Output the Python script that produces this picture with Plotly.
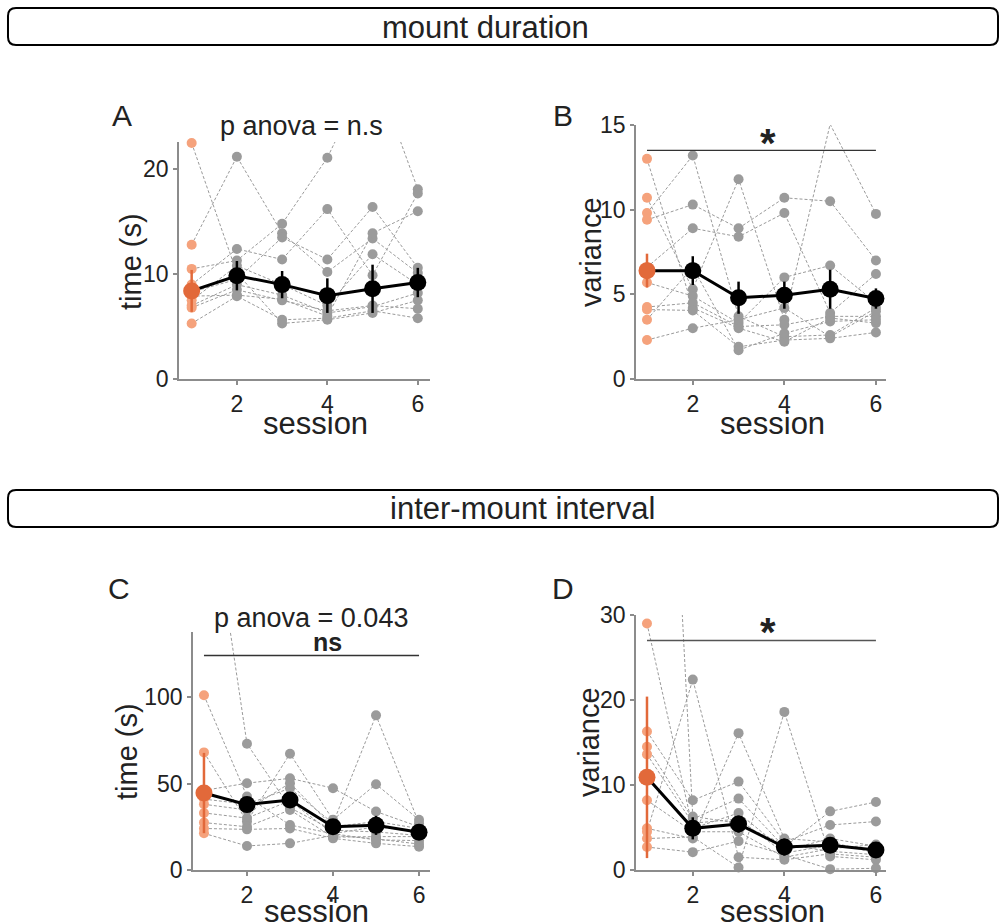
import plotly.graph_objects as go

W, H = 1002, 923
FONT = "Liberation Sans, Arial, Helvetica, sans-serif"

sessions = [1, 2, 3, 4, 5, 6]

# ---------------- data ----------------
# Panel A: mount duration, time (s) — one row per subject, sessions 1..6
A_subjects = [
    [22.5, 10.1, 5.3, 5.65, 6.3, 7.5],
    [12.8, 21.2, 13.9, 10.2, 13.4, 10.1],
    [10.5, 11.3, 14.8, 21.1, 30.0, 18.1],
    [9.0, 12.4, 11.4, 16.2, 9.9, 17.7],
    [8.3, 9.5, 13.5, 11.4, 16.4, 10.6],
    [7.9, 8.0, 7.6, 6.0, 13.9, 16.0],
    [7.5, 10.8, 9.0, 7.0, 11.9, 9.0],
    [7.0, 9.0, 8.0, 6.3, 6.9, 8.2],
    [6.8, 8.5, 7.5, 6.5, 7.0, 6.7],
    [5.3, 7.9, 5.65, 5.8, 6.5, 5.8],
]
A_mean = [8.4, 9.85, 9.0, 7.95, 8.6, 9.2]
A_err = [2.0, 1.4, 1.3, 1.65, 2.3, 1.4]

# Panel B: mount duration, variance
B_subjects = [
    [13.0, 4.2, 3.0, 2.2, 3.6, 3.3],
    [10.7, 5.3, 11.8, 3.5, 15.05, 9.75],
    [9.8, 13.2, 3.7, 2.5, 2.6, 4.2],
    [9.4, 10.3, 8.9, 10.7, 10.5, 7.0],
    [6.6, 8.9, 8.4, 9.8, 3.9, 6.2],
    [5.7, 4.9, 3.3, 6.0, 6.7, 4.5],
    [4.25, 4.5, 3.1, 3.2, 3.7, 3.7],
    [4.1, 4.05, 1.9, 2.3, 2.4, 2.75],
    [3.5, 6.6, 1.7, 2.7, 3.4, 3.5],
    [2.3, 3.0, 3.5, 4.2, 2.5, 4.0],
]
B_mean = [6.4, 6.4, 4.8, 4.95, 5.3, 4.75]
B_err = [1.0, 0.85, 0.95, 0.8, 1.15, 0.6]

# Panel C: inter-mount interval, time (s)
C_subjects = [
    [240.0, 73.0, 36.0, 23.0, 22.0, 20.0],
    [101.0, 42.5, 26.0, 21.0, 17.4, 17.0],
    [68.0, 28.0, 67.2, 29.0, 49.6, 29.0],
    [46.0, 50.2, 53.0, 47.3, 33.8, 25.0],
    [41.0, 38.0, 47.3, 27.0, 89.4, 27.0],
    [38.0, 34.7, 50.2, 25.0, 28.0, 24.0],
    [33.0, 30.0, 40.0, 21.0, 25.0, 22.0],
    [27.4, 25.0, 34.7, 19.0, 19.3, 19.3],
    [24.0, 23.5, 24.0, 18.3, 15.4, 13.5],
    [21.2, 13.9, 15.4, 20.0, 18.0, 15.0],
]
C_mean = [44.5, 37.8, 40.5, 25.0, 25.8, 21.8]
C_err = [23.2, 4.0, 4.0, 3.0, 5.5, 2.5]

# Panel D: inter-mount interval, variance
D_subjects = [
    [110.0, 6.3, 5.5, 3.0, 2.2, 1.8],
    [29.0, 4.9, 6.7, 2.3, 3.7, 2.8],
    [16.3, 8.2, 10.4, 3.3, 5.3, 5.7],
    [14.5, 6.0, 8.4, 2.7, 6.9, 8.0],
    [13.6, 5.5, 6.0, 2.0, 2.9, 2.35],
    [8.2, 4.5, 4.5, 1.5, 2.5, 3.0],
    [4.9, 3.7, 16.1, 3.7, 3.3, 2.0],
    [4.5, 22.4, 1.5, 1.2, 1.9, 1.5],
    [3.7, 3.9, 0.3, 18.6, 1.6, 1.2],
    [2.7, 2.1, 3.4, 1.8, 0.1, 0.2],
]
D_mean = [10.9, 4.9, 5.4, 2.7, 2.9, 2.35]
D_err = [9.5, 1.3, 1.0, 1.0, 0.6, 0.5]

x_ticks = [2, 4, 6]
A_yticks = [0, 10, 20]
B_yticks = [0, 5, 10, 15]
C_yticks = [0, 50, 100]
D_yticks = [0, 10, 20, 30]

section_titles = ["mount duration", "inter-mount interval"]
panel_letters = ["A", "B", "C", "D"]
y_titles = ["time (s)", "variance", "time (s)", "variance"]
x_title = "session"

# ---------------- styling / layout ----------------
ORANGE_PT = "#F5A27C"
ORANGE_MEAN = "#E2693A"
GREY_PT = "#9b9b9b"
GREY_LINE = "#9a9a9a"
AXIS_COL = "#8c8c8c"
TXT = "#222222"

panels = [
    dict(subj=A_subjects, mean=A_mean, err=A_err, xr=[0.72, 6.27], yr=[0, 22.6],
         yt=A_yticks, px=(179, 430), py=(142, 379)),
    dict(subj=B_subjects, mean=B_mean, err=B_err, xr=[0.76, 6.22], yr=[0, 15],
         yt=B_yticks, px=(636, 886), py=(125, 379)),
    dict(subj=C_subjects, mean=C_mean, err=C_err, xr=[0.745, 6.255], yr=[0, 137.6],
         yt=C_yticks, px=(193, 430), py=(632, 870)),
    dict(subj=D_subjects, mean=D_mean, err=D_err, xr=[0.76, 6.22], yr=[0, 30],
         yt=D_yticks, px=(636, 886), py=(615, 870)),
]


def fx(x):
    return x / W


def fy(y):
    return 1 - y / H


fig = go.Figure()
layout = dict(
    template="none",
    width=W, height=H, autosize=False,
    margin=dict(l=0, r=0, t=0, b=0, pad=0, autoexpand=False),
    paper_bgcolor="white", plot_bgcolor="white",
    showlegend=False,
    font=dict(family=FONT, color=TXT),
)

axis_common = dict(
    showline=True, linecolor=AXIS_COL, linewidth=1.5,
    ticks="outside", ticklen=4, tickwidth=1.5, tickcolor=AXIS_COL,
    showgrid=False, zeroline=False, fixedrange=True, automargin=False,
    tickfont=dict(family=FONT, size=23, color=TXT),
)

for i, p in enumerate(panels):
    n = "" if i == 0 else str(i + 1)
    xa, ya = "x" + n, "y" + n
    ymax = p["yr"][1]

    # individual subject trajectories (dashed)
    xs, ys = [], []
    for s in p["subj"]:
        xs += sessions + [None]
        ys += s + [None]
    fig.add_trace(go.Scatter(x=xs, y=ys, mode="lines", xaxis=xa, yaxis=ya,
                             line=dict(color=GREY_LINE, width=1, dash="3px,2px"),
                             hoverinfo="skip", connectgaps=False))

    # session 1 individual points
    s1 = [s[0] for s in p["subj"] if s[0] <= ymax]
    fig.add_trace(go.Scatter(x=[1] * len(s1), y=s1, mode="markers", xaxis=xa, yaxis=ya,
                             marker=dict(color=ORANGE_PT, size=10), cliponaxis=False))
    # sessions 2..6 individual points
    gx, gy = [], []
    for s in p["subj"]:
        for j in range(1, 6):
            if s[j] <= ymax:
                gx.append(sessions[j])
                gy.append(s[j])
    fig.add_trace(go.Scatter(x=gx, y=gy, mode="markers", xaxis=xa, yaxis=ya,
                             marker=dict(color=GREY_PT, size=10), cliponaxis=False))

    # mean line
    fig.add_trace(go.Scatter(x=sessions, y=p["mean"], mode="lines", xaxis=xa, yaxis=ya,
                             line=dict(color="black", width=3)))
    # session 1 mean (orange)
    fig.add_trace(go.Scatter(x=[1], y=[p["mean"][0]], mode="markers", xaxis=xa, yaxis=ya,
                             marker=dict(color=ORANGE_MEAN, size=17), cliponaxis=False,
                             error_y=dict(type="data", array=[p["err"][0]], width=0,
                                          thickness=2.5, color=ORANGE_MEAN)))
    # sessions 2..6 mean (black)
    fig.add_trace(go.Scatter(x=sessions[1:], y=p["mean"][1:], mode="markers", xaxis=xa, yaxis=ya,
                             marker=dict(color="black", size=17), cliponaxis=False,
                             error_y=dict(type="data", array=p["err"][1:], width=0,
                                          thickness=2.5, color="black")))

    layout["xaxis" + n] = dict(domain=[fx(p["px"][0]), fx(p["px"][1])], range=p["xr"],
                               tickvals=x_ticks, anchor=ya, **axis_common)
    layout["yaxis" + n] = dict(domain=[fy(p["py"][1]), fy(p["py"][0])], range=p["yr"],
                               tickvals=p["yt"], anchor=xa, **axis_common)

fig.update_layout(**layout)


# ---------------- section header boxes ----------------
def rounded_path(x0, y0, x1, y1, r):
    X = lambda v: f"{fx(v):.5f}"
    Y = lambda v: f"{fy(v):.5f}"
    return (f"M {X(x0 + r)},{Y(y0)} L {X(x1 - r)},{Y(y0)} Q {X(x1)},{Y(y0)} {X(x1)},{Y(y0 + r)} "
            f"L {X(x1)},{Y(y1 - r)} Q {X(x1)},{Y(y1)} {X(x1 - r)},{Y(y1)} "
            f"L {X(x0 + r)},{Y(y1)} Q {X(x0)},{Y(y1)} {X(x0)},{Y(y1 - r)} "
            f"L {X(x0)},{Y(y0 + r)} Q {X(x0)},{Y(y0)} {X(x0 + r)},{Y(y0)} Z")


shapes = []
boxes = [(8, 8, 998, 45), (8, 490, 998, 527)]
for (x0, y0, x1, y1) in boxes:
    shapes.append(dict(type="path", xref="paper", yref="paper",
                       path=rounded_path(x0, y0, x1, y1, 8),
                       line=dict(color="black", width=2)))

# significance bars
shapes.append(dict(type="line", xref="x2", yref="y2", x0=1, x1=6, y0=13.5, y1=13.5,
                   line=dict(color="#333333", width=1.3)))
shapes.append(dict(type="line", xref="x3", yref="y3", x0=1, x1=6, y0=124, y1=124,
                   line=dict(color="#333333", width=1.3)))
shapes.append(dict(type="line", xref="x4", yref="y4", x0=1, x1=6, y0=27, y1=27,
                   line=dict(color="#555555", width=1.3)))

annotations = []


def ann(text, x, y, size, angle=0, bold=False, xanchor="center", yanchor="middle"):
    t = f"<b>{text}</b>" if bold else text
    annotations.append(dict(text=t, x=fx(x), y=fy(y), xref="paper", yref="paper",
                            showarrow=False, textangle=angle, xanchor=xanchor, yanchor=yanchor,
                            font=dict(family=FONT, size=size, color=TXT)))


ann(section_titles[0], 485, 27.5, 31)
ann(section_titles[1], 522, 509, 31)

# panel letters
for letter, (x, y) in zip(panel_letters, [(122, 116), (563, 116), (119, 588), (563, 588)]):
    ann(letter, x, y, 30)

# axis titles
for t, (x, y) in zip(y_titles, [(131, 262), (591, 252), (127, 751), (589, 742)]):
    ann(t, x, y, 29, angle=-90)
for (x, y) in [(315, 423), (772, 423), (316, 911), (772, 911)]:
    ann(x_title, x, y, 31)

# statistics text
ann("p anova = n.s", 301, 126.5, 27)
ann("p anova = 0.043", 311, 617.5, 27)
ann("ns", 327, 642, 25, bold=True)
ann("*", 768, 143, 40, bold=True)
ann("*", 768, 632, 40, bold=True)

fig.update_layout(shapes=shapes, annotations=annotations)

fig.write_html("out.html")
